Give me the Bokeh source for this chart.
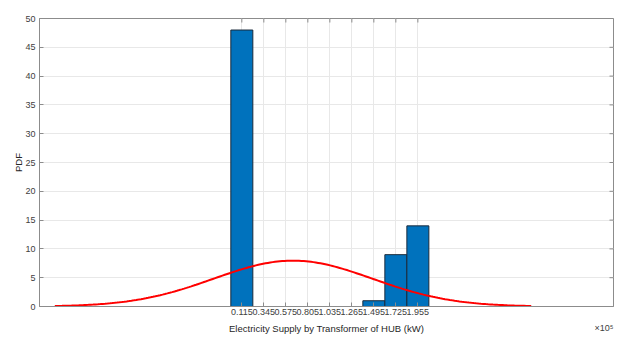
import numpy as np
from bokeh.plotting import figure
from bokeh.models import FixedTicker, Range1d, Label, ColumnDataSource
from bokeh.embed import file_html
from bokeh.resources import INLINE

# ---- data (x in units of 1e5 kW) ----
bin_centers = [0.115, 0.345, 0.575, 0.805, 1.035, 1.265, 1.495, 1.725, 1.955]
counts = [48, 0, 0, 0, 0, 0, 1, 9, 14]
bin_width = 0.23
tick_labels = ["0.115", "0.345", "0.575", "0.805", "1.035", "1.265", "1.495", "1.725", "1.955"]
y_ticks = [0, 5, 10, 15, 20, 25, 30, 35, 40, 45, 50]
x_title = "Electricity Supply by Transformer of HUB (kW)"
y_title = "PDF"
x_exponent = "×10⁵"
# normal fit parameters (histfit)
fit_mu = 0.65
fit_sigma = 0.83

X_MIN, X_MAX, Y_MIN, Y_MAX = -2, 4, 0, 50
FRAME_W = 574

FONT = "Liberation Sans"
TXT = "#404040"
AX = "#8c8c8c"

p = figure(width=619, height=338, output_backend="svg", toolbar_location=None,
           x_range=Range1d(X_MIN, X_MAX), y_range=Range1d(Y_MIN, Y_MAX),
           min_border_left=39, min_border_right=6, min_border_top=18, min_border_bottom=32,
           y_axis_label=y_title)
p.background_fill_color = "white"
p.border_fill_color = "white"
p.outline_line_color = AX
p.outline_line_width = 1

# bars
bars = [(c, n) for c, n in zip(bin_centers, counts) if n > 0]
src = ColumnDataSource(dict(
    left=[c - bin_width / 2 for c, _ in bars],
    right=[c + bin_width / 2 for c, _ in bars],
    top=[n for _, n in bars]))
p.quad(left="left", right="right", bottom=0, top="top", source=src,
       fill_color="#0072BD", line_color="#1a2a3a", line_width=1)

# fitted normal curve over mu +/- 3 sigma, scaled to histogram area
n_total = sum(counts)
xs = np.linspace(fit_mu - 3 * fit_sigma, fit_mu + 3 * fit_sigma, 200)
ys = n_total * bin_width * np.exp(-0.5 * ((xs - fit_mu) / fit_sigma) ** 2) / (fit_sigma * np.sqrt(2 * np.pi))
p.line(xs, ys, line_color="#ff0000", line_width=2)

# axes
xt = FixedTicker(ticks=bin_centers)
yt = FixedTicker(ticks=y_ticks)
xa = p.xaxis[0]
xa.ticker = xt
xa.major_label_overrides = {c: l for c, l in zip(bin_centers, tick_labels)}
ya = p.yaxis[0]
ya.ticker = yt
for ax in (xa, ya):
    ax.major_tick_in = 4
    ax.major_tick_out = 0
    ax.minor_tick_in = 0
    ax.minor_tick_out = 0
    ax.axis_line_color = AX
    ax.major_tick_line_color = AX
    ax.major_label_text_font = FONT
    ax.major_label_text_font_size = "9px"
    ax.major_label_text_color = TXT
    ax.axis_label_text_font = FONT
    ax.axis_label_text_font_size = "9.5px"
    ax.axis_label_text_font_style = "normal"
    ax.axis_label_text_color = "#262626"
    ax.major_label_standoff = 4
xa.major_label_standoff = 2
ya.axis_label_standoff = -2

# inward ticks on the top and right edges (half of each dash is clipped by the frame)
p.scatter(x=bin_centers, y=[Y_MAX] * len(bin_centers), marker="dash", angle=np.pi / 2,
          size=8, line_color=AX, line_width=1)
p.scatter(x=[X_MAX] * len(y_ticks), y=y_ticks, marker="dash",
          size=8, line_color=AX, line_width=1)

p.xgrid.ticker = xt
p.ygrid.ticker = yt
p.grid.grid_line_color = "#e8e8e8"
p.grid.grid_line_width = 1

# x-axis title and x10^5 exponent, as labels in the panel below the axis
p.add_layout(Label(x=FRAME_W / 2, y=0, x_units="screen", y_units="screen", text=x_title,
                   text_align="center", text_baseline="middle", text_line_height=1.0,
                   text_font=FONT, text_font_size="9.5px", text_color="#262626"), "below")
p.add_layout(Label(x=FRAME_W, y=11, x_units="screen", y_units="screen", text=x_exponent,
                   text_align="right", text_baseline="middle", text_line_height=1.0,
                   text_font=FONT, text_font_size="9px", text_color=TXT), "below")

open("out.html", "w").write(file_html(p, INLINE))
